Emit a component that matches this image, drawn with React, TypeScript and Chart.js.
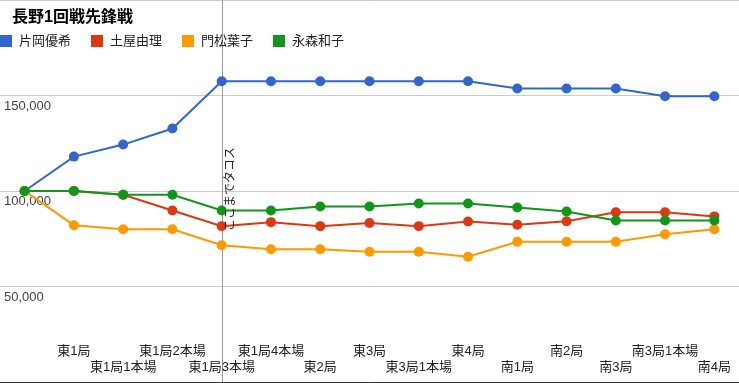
import React, { useEffect, useRef } from 'react';
import { Chart, registerables } from 'chart.js';

Chart.register(...registerables);

const TITLE = '長野1回戦先鋒戦';
const CATEGORIES = ['', '東1局', '東1局1本場', '東1局2本場', '東1局3本場', '東1局4本場', '東2局', '東3局', '東3局1本場', '東4局', '南1局', '南2局', '南3局', '南3局1本場', '南4局'];
const SERIES_NAMES = ['片岡優希', '土屋由理', '門松葉子', '永森和子'];
const SERIES_COLORS = ['#3366cc', '#dc3912', '#ff9900', '#109618'];
const KATAOKA = [100000, 118000, 124300, 132700, 157500, 157500, 157500, 157500, 157500, 157500, 153700, 153700, 153700, 149600, 149600];
const TSUCHIYA = [100000, 100000, 98000, 89800, 81600, 83700, 81600, 83200, 81600, 84000, 82300, 84200, 88900, 88900, 86700];
const KADOMATSU = [100000, 82100, 80000, 80000, 71600, 69500, 69500, 68200, 68200, 65600, 73400, 73400, 73400, 77400, 80000];
const NAGAMORI = [100000, 100000, 98000, 98000, 89800, 89800, 91900, 91900, 93500, 93500, 91400, 89300, 84600, 84600, 84600];
const SERIES_VALUES = [KATAOKA, TSUCHIYA, KADOMATSU, NAGAMORI];
const Y_TICKS_SHOWN = [50000, 100000, 150000];
const MARK_INDEX = 4;
const MARK_TEXT = 'ここまでタコス';

const FONT = '"Liberation Sans", Arial, "Noto Sans CJK JP", sans-serif';

const zeroPad = (s: any) => {
  s.paddingLeft = 0;
  s.paddingRight = 0;
  s.paddingTop = 0;
  s.paddingBottom = 0;
};

const overlayPlugin = {
  id: 'overlay',
  beforeDatasetsDraw(chart: any) {
    const { ctx, chartArea, scales } = chart;
    const px = Math.round(scales.x.getPixelForValue(MARK_INDEX)) + 0.5;
    ctx.save();
    ctx.strokeStyle = '#999999';
    ctx.lineWidth = 1;
    ctx.beginPath();
    ctx.moveTo(px, 0);
    ctx.lineTo(px, chartArea.bottom);
    ctx.stroke();
    ctx.restore();
  },
  afterDraw(chart: any) {
    const { ctx, scales } = chart;
    const xs = scales.x;
    ctx.save();
    ctx.font = '13px ' + FONT;
    ctx.fillStyle = '#222222';
    ctx.textAlign = 'center';
    ctx.textBaseline = 'middle';
    CATEGORIES.forEach((lab, i) => {
      if (!lab) return;
      const x = xs.getPixelForValue(i);
      const y = i % 2 === 1 ? 351 : 367;
      ctx.fillText(lab, x, y);
    });
    const mx = xs.getPixelForValue(MARK_INDEX);
    ctx.save();
    ctx.translate(mx + 8.5, 231);
    ctx.rotate(-Math.PI / 2);
    ctx.font = '12px ' + FONT;
    ctx.fillStyle = '#222222';
    ctx.textAlign = 'left';
    ctx.textBaseline = 'middle';
    ctx.fillText(MARK_TEXT, 0, 0);
    ctx.restore();
    ctx.font = 'bold 16px ' + FONT;
    ctx.fillStyle = '#000000';
    ctx.textAlign = 'left';
    ctx.textBaseline = 'middle';
    ctx.fillText(TITLE, 12, 18);
    ctx.font = '13px ' + FONT;
    SERIES_NAMES.forEach((name, i) => {
      const lx = i * 91;
      ctx.fillStyle = SERIES_COLORS[i];
      ctx.fillRect(lx, 35, 12, 12);
      ctx.fillStyle = '#222222';
      ctx.fillText(name, lx + 19, 41.5);
    });
    ctx.restore();
  },
};

export default function App() {
  const ref = useRef<HTMLCanvasElement>(null);
  useEffect(() => {
    if (!ref.current) return;
    Chart.defaults.font.family = FONT;
    const chart = new Chart(ref.current, {
      type: 'line',
      data: {
        labels: CATEGORIES,
        datasets: SERIES_NAMES.map((name, i) => ({
          label: name,
          data: SERIES_VALUES[i],
          borderColor: SERIES_COLORS[i],
          backgroundColor: SERIES_COLORS[i],
          pointBackgroundColor: SERIES_COLORS[i],
          pointBorderWidth: 0,
          pointRadius: 5,
          borderWidth: 2,
          tension: 0,
          clip: false,
          order: SERIES_NAMES.length - i,
        })),
      },
      options: {
        responsive: false,
        animation: false,
        layout: { autoPadding: false, padding: { left: 0, right: 0, top: 0, bottom: 1 } },
        plugins: { legend: { display: false }, title: { display: false }, tooltip: { enabled: false } },
        scales: {
          x: {
            type: 'category',
            offset: true,
            grid: { display: false, drawTicks: false },
            border: { display: false },
            ticks: { display: false },
            afterFit: (s: any) => { zeroPad(s); s.height = 0; },
          },
          y: {
            min: 0,
            max: 200000,
            border: { display: false },
            grid: {
              drawTicks: false,
              color: (c: any) => (c.tick && c.tick.value === 0 ? '#333333' : '#cccccc'),
            },
            ticks: {
              stepSize: 50000,
              mirror: true,
              padding: 4,
              labelOffset: 10.5,
              color: '#444444',
              font: { size: 13, family: FONT },
              callback: (v: any) => (Y_TICKS_SHOWN.includes(Number(v)) ? Number(v).toLocaleString('en-US') : ''),
            },
            afterFit: (s: any) => { zeroPad(s); s.width = 0; },
          },
        },
      },
      plugins: [overlayPlugin],
    });
    return () => chart.destroy();
  }, []);
  return (
    <div style={{ position: 'fixed', left: 0, top: 0, width: 739, height: 383, background: '#fff' }}>
      <canvas ref={ref} width={739} height={383} />
    </div>
  );
}
